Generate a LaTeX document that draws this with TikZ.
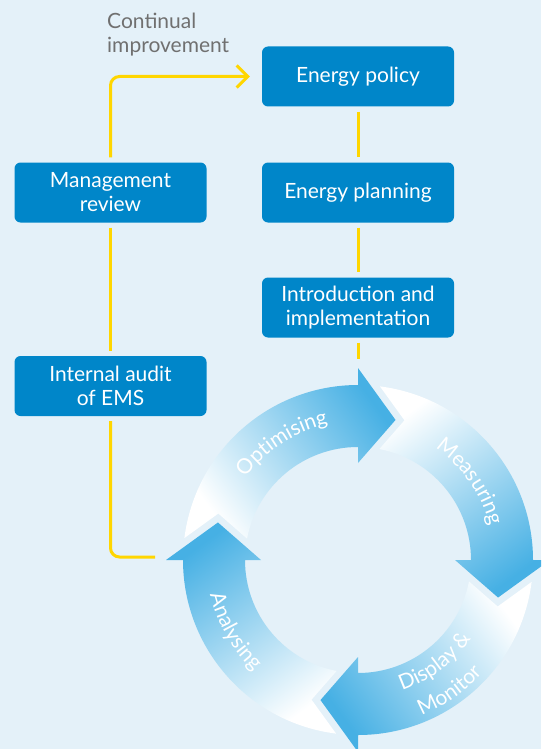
\documentclass[tikz,border=0pt]{standalone}
\usepackage{fontspec}
\setmainfont{Lato}
\usetikzlibrary{arrows.meta,decorations.text}

\definecolor{sfondo}{RGB}{228,241,249}
\definecolor{blubox}{RGB}{0,134,201}
\definecolor{bluciclo}{RGB}{70,176,228}
\definecolor{giallo}{RGB}{255,214,0}
\definecolor{grigio}{RGB}{112,112,112}

\begin{document}
\begin{tikzpicture}[x=1pt,y=1pt]
% definizione delle caratteristiche dei box
\tikzset{mybox/.style={rectangle, rounded corners=6pt, fill=blubox, text=white, minimum width=192pt, minimum height=60pt, inner sep=0pt, align=center, font=\fontsize{21}{24}\selectfont}}
% linee gialle di collegamento
\tikzset{myline/.style={draw=giallo, line width=3pt, shorten <=5pt, shorten >=5pt}}
% testo lungo le frecce del ciclo
\tikzset{mytext/.style={decorate, decoration={text along path, text align=center, text color=white, text={|\fontsize{21}{24}\selectfont|#1}}}}

%----
% sfondo
\clip (0,0) rectangle (541,-749);
\fill[sfondo] (0,0) rectangle (541,-749);

% inserimento box colonna destra
\node[mybox] (policy) at (358,-76.5) {Energy policy};
\node[mybox] (planning) at (358,-192.5) {Energy planning};
\node[mybox] (intro) at (358,-307.5) {Introduction and\\implementation};
% inserimento box colonna sinistra
\node[mybox] (review) at (110.5,-192.5) {Management\\review};
\node[mybox] (audit) at (110.5,-386) {Internal audit\\of EMS};
% testo in alto
\node[anchor=north west, align=left, inner sep=0pt, text=grigio, font=\fontsize{21}{24}\selectfont] (cont) at (107,-12.5) {Continual\\improvement};

% inserimento frecce del ciclo
\begin{scope}[shift={(358,-560)}]
\foreach \h/\sa in {90/-54, 0/-144, -90/126, 180/36}
\shade[bottom color=white, top color=bluciclo, shading angle=\sa]
  ({\h+82.8}:175) arc[start angle=\h+82.8, end angle=\h, radius=175]
  -- (\h:192) -- ({\h-15}:145) -- (\h:97) -- (\h:113)
  arc[start angle=\h, end angle=\h+79.1, radius=113]
  -- ({\h+71.6}:147.2) -- cycle;
% scritte sulle frecce
\path[mytext={Optimising}] (163:139) arc[start angle=163, end angle=83, radius=139];
\path[mytext={Measuring}] (75:136) arc[start angle=75, end angle=-5, radius=136];
\path[mytext={Display {\&}}] (-93:138) arc[start angle=-93, end angle=-13, radius=138];
\path[mytext={Monitor}] (-95:168) arc[start angle=-95, end angle=-15, radius=168];
\path[mytext={Analysing}] (170:152) arc[start angle=170, end angle=250, radius=152];
\end{scope}

% inserimento path gialli tra i box
\coordinate (stub) at (358,-359);
\coordinate (cycin) at (155,-557);
\draw[myline] (policy) -- (planning);
\draw[myline] (planning) -- (intro);
\draw[myline, shorten >=0pt] (intro) -- (stub);
\draw[myline] (review) -- (audit);
\draw[myline, rounded corners=9pt, shorten >=12pt, -{Straight Barb[length=11pt, width=22pt]}] (review) |- (policy);
\draw[myline, rounded corners=9pt, shorten >=0pt] (audit) |- (cycin);
\end{tikzpicture}
\end{document}
